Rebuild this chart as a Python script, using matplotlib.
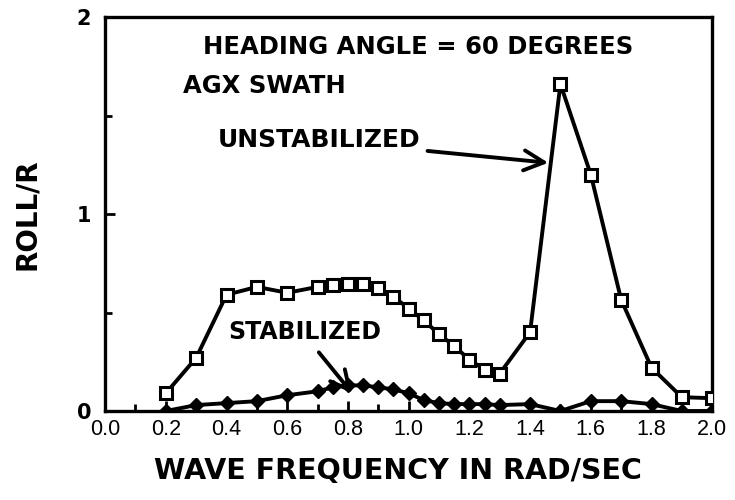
import matplotlib
matplotlib.use('Agg')
import matplotlib.pyplot as plt
from matplotlib.ticker import MultipleLocator

# wave frequency (rad/sec)
freq = [0.2, 0.3, 0.4, 0.5, 0.6, 0.7, 0.75, 0.8, 0.85, 0.9, 0.95, 1.0, 1.05,
        1.1, 1.15, 1.2, 1.25, 1.3, 1.4, 1.5, 1.6, 1.7, 1.8, 1.9, 2.0]
# roll / R
unstab = [0.09, 0.27, 0.59, 0.63, 0.60, 0.63, 0.64, 0.645, 0.645, 0.625, 0.58,
          0.52, 0.46, 0.39, 0.33, 0.26, 0.21, 0.19, 0.40, 1.66, 1.20, 0.565,
          0.22, 0.07, 0.065]
stab = [0.0, 0.03, 0.04, 0.05, 0.08, 0.10, 0.12, 0.13, 0.13, 0.12, 0.11,
        0.09, 0.055, 0.04, 0.035, 0.035, 0.035, 0.03, 0.035, 0.0, 0.05, 0.05,
        0.035, 0.0, 0.0]

xticks = [0.0, 0.2, 0.4, 0.6, 0.8, 1.0, 1.2, 1.4, 1.6, 1.8, 2.0]
yticks = [0, 1, 2]

plt.rcParams['font.family'] = ['Liberation Sans', 'DejaVu Sans']
bold = dict(family='DejaVu Sans', fontweight='bold')

fig = plt.figure(figsize=(7.35, 5), dpi=100)
ax = fig.add_axes([0.143, 0.178, 0.826, 0.788])

ax.plot(freq, stab, color='black', lw=2.8, marker='D', markersize=7,
        mfc='black', mec='black', zorder=3)
ax.plot(freq, unstab, color='black', lw=2.8, marker='s', markersize=8,
        mfc='white', mec='black', mew=2.2, zorder=4)

ax.set_xlim(0, 2.0)
ax.set_ylim(0, 2)
ax.set_xticks(xticks)
ax.set_xticklabels(['%.1f' % v for v in xticks], fontsize=15.5)
ax.set_yticks(yticks)
ax.set_yticklabels([str(v) for v in yticks], fontsize=15, **bold)
ax.xaxis.set_minor_locator(MultipleLocator(0.1))
ax.yaxis.set_minor_locator(MultipleLocator(0.5))
ax.tick_params(which='both', direction='in', width=2, color='black')
ax.tick_params(which='major', length=7, pad=6)
ax.tick_params(which='minor', length=5)
ax.tick_params(axis='y', which='major', pad=10)
for s in ax.spines.values():
    s.set_linewidth(2.4)

ax.set_xlabel('WAVE FREQUENCY IN RAD/SEC', fontsize=20.5, **bold)
ax.xaxis.set_label_coords(0.482, -0.118)
ax.set_ylabel('ROLL/R', fontsize=20, labelpad=26, **bold)

ax.text(1.03, 1.85, 'HEADING ANGLE = 60 DEGREES', fontsize=17.5,
        ha='center', va='center', **bold)
ax.text(0.257, 1.65, 'AGX SWATH', fontsize=17.5, ha='left', va='center', **bold)
ax.annotate('UNSTABILIZED', xy=(1.46, 1.26), xytext=(0.372, 1.374),
            fontsize=18, ha='left', va='center', **bold,
            arrowprops=dict(arrowstyle='->,head_length=0.8,head_width=0.4',
                            lw=2.8, color='black', shrinkA=3, shrinkB=0))
ax.annotate('STABILIZED', xy=(0.814, 0.09), xytext=(0.405, 0.40),
            fontsize=17, ha='left', va='center', **bold,
            arrowprops=dict(arrowstyle='->,head_length=0.8,head_width=0.4',
                            lw=2.8, color='black', shrinkA=5, shrinkB=0,
                            relpos=(0.55, 0.0)))

fig.savefig('out.png', dpi=100)
